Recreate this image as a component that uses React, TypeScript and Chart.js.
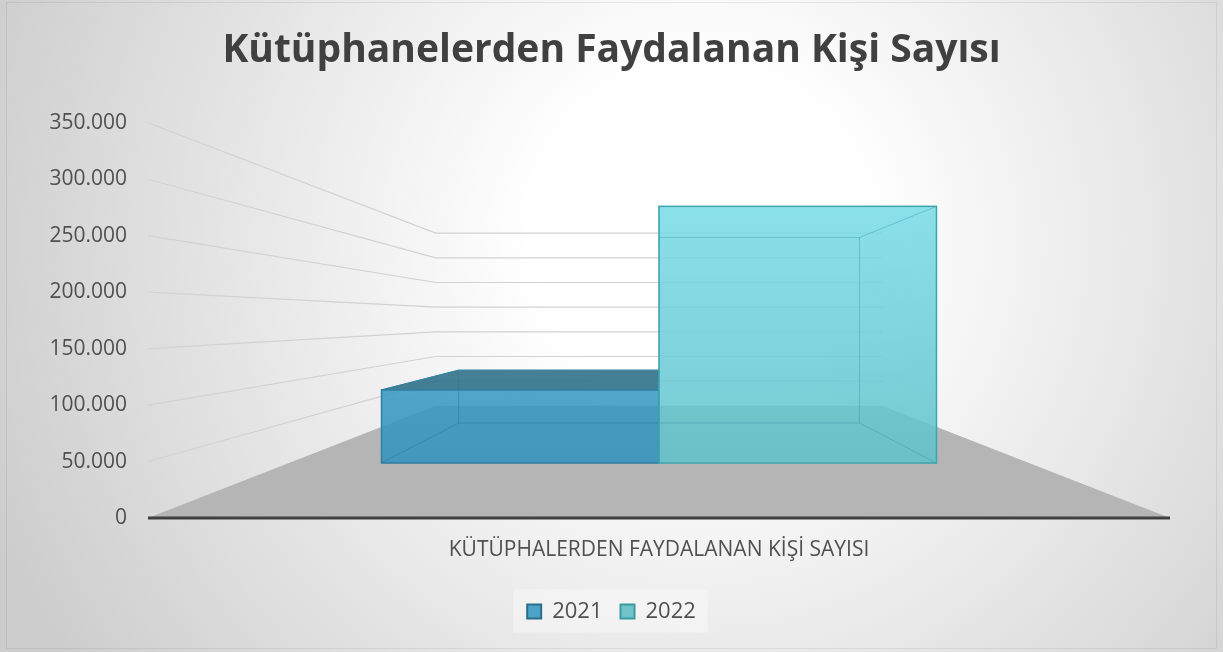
import React, { useEffect, useRef } from 'react';
import { Chart, registerables } from 'chart.js';

Chart.register(...registerables);

// ---------------- data ----------------
const TITLE = 'Kütüphanelerden Faydalanan Kişi Sayısı';
const CATEGORIES = ['KÜTÜPHALERDEN FAYDALANAN KİŞİ SAYISI'];
const SERIES_NAMES = ['2021', '2022'];
const VALUES_2021 = [89500];
const VALUES_2022 = [314000];
const Y_MIN = 0;
const Y_MAX = 350000;
const Y_STEP = 50000;

// ---------------- styles ----------------
const FONT = "'Open Sans', 'Noto Sans', sans-serif";
const TEXT_COLOR = '#505050';

const SERIES_STYLE = [
  {
    legendFill: '#4ba3c8',
    legendBorder: '#2b6e8a',
    frontTop: 'rgba(56,154,196,0.88)',
    frontBottom: 'rgba(52,146,189,0.88)',
    top: 'rgba(52,116,141,0.92)',
    edge: '#2f7fa0',
    inner: 'rgba(38,118,150,0.45)',
  },
  {
    legendFill: '#72c4ca',
    legendBorder: '#3a9aa1',
    frontTop: 'rgba(118,219,229,0.85)',
    frontBottom: 'rgba(96,192,202,0.85)',
    top: 'rgba(90,180,190,0.9)',
    edge: '#3fa4ad',
    inner: 'rgba(50,150,160,0.4)',
  },
];

// perspective geometry (fractions of the front plane)
const VP_FRAC = 0.504;
const FLOOR_BACK = 0.437;
const BAR_FRONT = 0.724;
const BAR_BACK = 0.523;

function fmt(v: number) {
  return String(Math.round(v)).replace(/\B(?=(\d{3})+(?!\d))/g, '.');
}

function drawBox(ctx: CanvasRenderingContext2D, P: any, vpY: number, l: number, r: number, t: number, b: number, st: any) {
  const [x1, y1] = P(l, t, BAR_FRONT);
  const [x2, y2] = P(r, b, BAR_FRONT);
  const [bx1, by1] = P(l, t, BAR_BACK);
  const [bx2, by2] = P(r, b, BAR_BACK);

  const g = ctx.createLinearGradient(0, y1, 0, y2);
  g.addColorStop(0, st.frontTop);
  g.addColorStop(1, st.frontBottom);
  ctx.fillStyle = g;
  ctx.fillRect(x1, y1, x2 - x1, y2 - y1);

  ctx.strokeStyle = st.inner;
  ctx.lineWidth = 1;
  ctx.beginPath();
  ctx.rect(bx1, by1, bx2 - bx1, by2 - by1);
  ctx.moveTo(x1, y1); ctx.lineTo(bx1, by1);
  ctx.moveTo(x2, y1); ctx.lineTo(bx2, by1);
  ctx.moveTo(x1, y2); ctx.lineTo(bx1, by2);
  ctx.moveTo(x2, y2); ctx.lineTo(bx2, by2);
  ctx.stroke();

  if (y1 > vpY) {
    ctx.beginPath();
    ctx.moveTo(x1, y1);
    ctx.lineTo(x2, y1);
    ctx.lineTo(bx2, by1);
    ctx.lineTo(bx1, by1);
    ctx.closePath();
    ctx.fillStyle = st.top;
    ctx.fill();
    ctx.strokeStyle = st.edge;
    ctx.lineWidth = 1;
    ctx.stroke();
  }

  ctx.strokeStyle = st.edge;
  ctx.lineWidth = 1.5;
  ctx.strokeRect(x1, y1, x2 - x1, y2 - y1);
}

const backgroundPlugin = {
  id: 'bg3d',
  beforeDraw(chart: any) {
    const { ctx, width, height } = chart;
    ctx.save();
    const g = ctx.createRadialGradient(700, 240, 0, 700, 240, 760);
    g.addColorStop(0, '#ffffff');
    g.addColorStop(0.22, '#ffffff');
    g.addColorStop(1, '#cdcdcd');
    ctx.fillStyle = g;
    ctx.fillRect(0, 0, width, height);
    ctx.strokeStyle = 'rgba(0,0,0,0.07)';
    ctx.lineWidth = 1;
    ctx.strokeRect(6.5, 2.5, width - 13, height - 6);

    const hb = chart.legend && chart.legend.legendHitBoxes;
    if (hb && hb.length) {
      const first = hb[0];
      const last = hb[hb.length - 1];
      const l = first.left - 14;
      const r = last.left + last.width + 12;
      const t = first.top - 11;
      const btm = first.top + first.height + 10;
      ctx.fillStyle = 'rgba(250,250,250,0.45)';
      ctx.fillRect(l, t, r - l, btm - t);
    }
    ctx.restore();
  },
};

const scenePlugin = {
  id: 'scene3d',
  beforeDatasetsDraw(chart: any) {
    const { ctx, chartArea: ca, scales } = chart;
    const y = scales.y;
    const base = y.getPixelForValue(Y_MIN);
    const vpX = (ca.left + ca.right) / 2;
    const vpY = base - (base - y.getPixelForValue(Y_MAX)) * VP_FRAC;
    const P = (px: number, py: number, s: number) => [vpX + (px - vpX) * s, vpY + (py - vpY) * s];

    ctx.save();
    // floor
    const f = [P(ca.left, base, 1), P(ca.right, base, 1), P(ca.right, base, FLOOR_BACK), P(ca.left, base, FLOOR_BACK)];
    ctx.beginPath();
    f.forEach((p, i) => (i ? ctx.lineTo(p[0], p[1]) : ctx.moveTo(p[0], p[1])));
    ctx.closePath();
    ctx.fillStyle = '#b5b5b5';
    ctx.fill();

    // side + back wall gridlines
    ctx.strokeStyle = '#d2d2d2';
    ctx.lineWidth = 1.2;
    y.ticks.forEach((tk: any) => {
      if (tk.value <= Y_MIN) return;
      const py = y.getPixelForValue(tk.value);
      const a = P(ca.left, py, FLOOR_BACK);
      const b = P(ca.right, py, FLOOR_BACK);
      ctx.beginPath();
      ctx.moveTo(ca.left, py);
      ctx.lineTo(a[0], a[1]);
      ctx.lineTo(b[0], b[1]);
      ctx.stroke();
    });

    // bars
    chart.data.datasets.forEach((_ds: any, i: number) => {
      const meta = chart.getDatasetMeta(i);
      meta.data.forEach((el: any) => {
        const l = el.x - el.width / 2;
        const r = el.x + el.width / 2;
        drawBox(ctx, P, vpY, l, r, el.y, el.base, SERIES_STYLE[i]);
      });
    });

    // front edge of floor (axis line)
    ctx.strokeStyle = '#404040';
    ctx.lineWidth = 3;
    ctx.beginPath();
    ctx.moveTo(ca.left, base);
    ctx.lineTo(ca.right, base);
    ctx.stroke();
    ctx.restore();
    return false;
  },
};

export default function App() {
  const ref = useRef<HTMLCanvasElement>(null);

  useEffect(() => {
    document.body.style.margin = '0';
    const seriesValues = [VALUES_2021, VALUES_2022];
    const chart = new Chart(ref.current as HTMLCanvasElement, {
      type: 'bar',
      data: {
        labels: CATEGORIES,
        datasets: SERIES_NAMES.map((name, i) => ({
          label: name,
          data: seriesValues[i],
          backgroundColor: SERIES_STYLE[i].legendFill,
          borderColor: SERIES_STYLE[i].legendBorder,
          borderWidth: 2,
          categoryPercentage: 0.75,
          barPercentage: 1,
        })),
      },
      options: {
        responsive: false,
        animation: false,
        layout: { padding: { top: 0, left: 0, right: 0, bottom: 19.5 } },
        plugins: {
          title: {
            display: true,
            text: TITLE,
            color: '#404040',
            font: { family: FONT, size: 39, weight: 'bold' },
            padding: { top: 27, bottom: 49 },
          },
          legend: {
            position: 'bottom',
            labels: {
              color: TEXT_COLOR,
              font: { family: FONT, size: 22 },
              boxWidth: 14,
              boxHeight: 14,
              padding: 18,
            },
          },
          tooltip: { enabled: false },
        },
        scales: {
          x: {
            grid: { display: false, drawTicks: false },
            border: { display: false },
            ticks: { color: TEXT_COLOR, font: { family: FONT, size: 21 }, padding: 19 },
            afterFit: (s: any) => { s.height = 64.5; },
          },
          y: {
            min: Y_MIN,
            max: Y_MAX,
            grid: { display: false, drawTicks: false },
            border: { display: false },
            ticks: {
              stepSize: Y_STEP,
              color: TEXT_COLOR,
              font: { family: FONT, size: 21 },
              padding: 21,
              callback: (v: any) => fmt(Number(v)),
            },
            afterFit: (s: any) => { s.width = 148; },
          },
          yR: {
            type: 'linear',
            position: 'right',
            grid: { display: false, drawTicks: false },
            border: { display: false },
            ticks: { display: false },
            afterFit: (s: any) => { s.width = 53; },
          },
        },
      } as any,
      plugins: [backgroundPlugin, scenePlugin],
    });
    return () => chart.destroy();
  }, []);

  return (
    <div style={{ width: 1223, height: 652 }}>
      <canvas ref={ref} width={1223} height={652} style={{ display: 'block' }} />
    </div>
  );
}
